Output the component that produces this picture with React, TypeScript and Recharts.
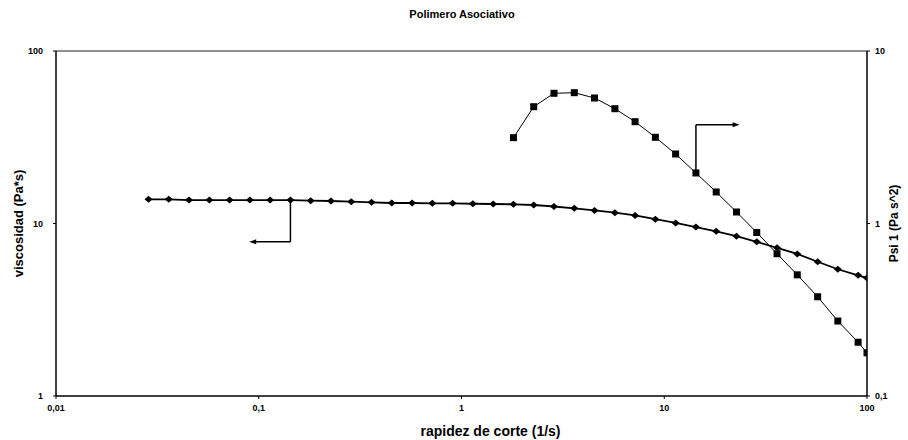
import React from 'react';
import {
  ComposedChart,
  Line,
  XAxis,
  YAxis,
  ReferenceLine,
  ReferenceDot,
} from 'recharts';

// shear rate (1/s)
const shearRate = [
  0.0286, 0.036, 0.0453, 0.0571, 0.0718, 0.0904, 0.1138, 0.1433, 0.1804, 0.2271,
  0.2859, 0.36, 0.453, 0.571, 0.718, 0.904, 1.138, 1.433, 1.804, 2.271,
  2.859, 3.6, 4.53, 5.71, 7.18, 9.04, 11.38, 14.33, 18.04, 22.71,
  28.59, 36.0, 45.3, 57.1, 71.8, 90.4, 100,
];

// viscosidad (Pa*s), left axis
const viscosity = [
  13.81, 13.81, 13.68, 13.68, 13.68, 13.68, 13.68, 13.68, 13.56, 13.5,
  13.38, 13.27, 13.15, 13.15, 13.09, 13.09, 13.02, 12.97, 12.92, 12.8,
  12.55, 12.25, 11.9, 11.55, 11.13, 10.59, 10.07, 9.54, 9.01, 8.44,
  7.83, 7.23, 6.66, 6.0, 5.43, 5.01, 4.83,
];

// Psi 1 (Pa s^2), right axis - measured from the 19th shear rate on
const PSI_START = 18;
const psi1 = [
  3.145, 4.754, 5.686, 5.732, 5.34, 4.629, 3.892, 3.16, 2.529, 1.963,
  1.523, 1.166, 0.887, 0.668, 0.504, 0.376, 0.272, 0.205, 0.178,
];

const xTicks = [0.01, 0.1, 1, 10, 100];
const leftTicks = [1, 10, 100];
const rightTicks = [0.1, 1, 10];

// annotation arrows (data coordinates)
const leftArrow = { x: 0.1433, yFrom: 13.68, yTo: 7.83, xEnd: 0.0928 };
const rightArrow = { x: 14.33, yFrom: 1.963, yTo: 3.74, xEnd: 22.75 };

const viscosityData = shearRate.map((x, i) => ({ x, y: viscosity[i] }));
const psiData = psi1.map((y, i) => ({ x: shearRate[i + PSI_START], y }));

const FONT = '"Liberation Sans", Arial, sans-serif';
const fmt = (v: number) => String(v).replace('.', ',');

const tickStyle = { fontFamily: FONT, fontSize: 9, fontWeight: 700, fill: '#000' };

const renderDiamond = (p: any) => {
  const { cx, cy, index } = p;
  if (cx == null || cy == null) return <g key={index} />;
  return (
    <polygon
      key={index}
      points={`${cx - 4},${cy} ${cx},${cy - 3.5} ${cx + 4},${cy} ${cx},${cy + 3.5}`}
      fill="#000"
    />
  );
};

const renderSquare = (p: any) => {
  const { cx, cy, index } = p;
  if (cx == null || cy == null) return <g key={index} />;
  return <rect key={index} x={cx - 3.5} y={cy - 3.5} width={7} height={7} fill="#000" />;
};

const arrowLeft = (p: any) => (
  <polygon points={`${p.cx - 3},${p.cy} ${p.cx + 4},${p.cy - 2.5} ${p.cx + 4},${p.cy + 2.5}`} fill="#000" />
);
const arrowRight = (p: any) => (
  <polygon points={`${p.cx + 3},${p.cy} ${p.cx - 4},${p.cy - 2.5} ${p.cx - 4},${p.cy + 2.5}`} fill="#000" />
);

export default function App() {
  return (
    <div style={{ position: 'absolute', left: 0, top: 0, width: 908, height: 440, background: '#fff' }}>
      <div
        style={{
          position: 'absolute',
          top: 8,
          left: 0,
          width: 924,
          textAlign: 'center',
          fontFamily: FONT,
          fontWeight: 700,
          fontSize: 11,
        }}
      >
        Polimero Asociativo
      </div>
      <ComposedChart width={908} height={440} margin={{ top: 51, right: 11, bottom: 14, left: 16 }}>
        <XAxis
          dataKey="x"
          type="number"
          scale="log"
          domain={[0.01, 100]}
          ticks={xTicks}
          tickFormatter={fmt}
          allowDataOverflow
          height={30}
          tick={tickStyle}
          tickSize={3}
          tickMargin={6}
          axisLine={{ stroke: '#000', strokeWidth: 1.5 }}
          tickLine={{ stroke: '#000' }}
          label={{
            value: 'rapidez de corte (1/s)',
            position: 'insideBottom',
            offset: -10,
            dx: 29,
            style: { fontFamily: FONT, fontSize: 14, fontWeight: 700, fill: '#000' },
          }}
        />
        <YAxis
          yAxisId="left"
          type="number"
          scale="log"
          domain={[1, 100]}
          ticks={leftTicks}
          allowDataOverflow
          width={40}
          tick={tickStyle}
          tickSize={3}
          tickMargin={10}
          axisLine={{ stroke: '#000', strokeWidth: 1.5 }}
          tickLine={{ stroke: '#000' }}
          label={{
            value: 'viscosidad (Pa*s)',
            angle: -90,
            position: 'insideLeft',
            offset: 2,
            style: { fontFamily: FONT, fontSize: 13, fontWeight: 700, fill: '#000', textAnchor: 'middle' },
          }}
        />
        <YAxis
          yAxisId="right"
          orientation="right"
          type="number"
          scale="log"
          domain={[0.1, 10]}
          ticks={rightTicks}
          tickFormatter={fmt}
          allowDataOverflow
          width={30}
          tick={tickStyle}
          tickSize={3}
          tickMargin={5}
          axisLine={{ stroke: '#000', strokeWidth: 1.5 }}
          tickLine={{ stroke: '#000' }}
          label={{
            value: 'Psi 1 (Pa s^2)',
            angle: -90,
            position: 'insideRight',
            offset: 3,
            style: { fontFamily: FONT, fontSize: 12, fontWeight: 700, fill: '#000', textAnchor: 'middle' },
          }}
        />
        <ReferenceLine yAxisId="left" y={100} stroke="#222" strokeWidth={1.2} />

        <ReferenceLine
          yAxisId="left"
          segment={[{ x: leftArrow.x, y: leftArrow.yFrom }, { x: leftArrow.x, y: leftArrow.yTo }]}
          stroke="#000"
          strokeWidth={1.5}
        />
        <ReferenceLine
          yAxisId="left"
          segment={[{ x: leftArrow.x, y: leftArrow.yTo }, { x: leftArrow.xEnd, y: leftArrow.yTo }]}
          stroke="#000"
          strokeWidth={1.5}
        />
        <ReferenceDot yAxisId="left" x={leftArrow.xEnd} y={leftArrow.yTo} shape={arrowLeft} />

        <ReferenceLine
          yAxisId="right"
          segment={[{ x: rightArrow.x, y: rightArrow.yFrom }, { x: rightArrow.x, y: rightArrow.yTo }]}
          stroke="#000"
          strokeWidth={1.5}
        />
        <ReferenceLine
          yAxisId="right"
          segment={[{ x: rightArrow.x, y: rightArrow.yTo }, { x: rightArrow.xEnd, y: rightArrow.yTo }]}
          stroke="#000"
          strokeWidth={1.5}
        />
        <ReferenceDot yAxisId="right" x={rightArrow.xEnd} y={rightArrow.yTo} shape={arrowRight} />

        <Line
          yAxisId="left"
          data={viscosityData}
          dataKey="y"
          type="linear"
          stroke="#000"
          strokeWidth={1.8}
          dot={renderDiamond}
          activeDot={false}
          isAnimationActive={false}
        />
        <Line
          yAxisId="right"
          data={psiData}
          dataKey="y"
          type="linear"
          stroke="#000"
          strokeWidth={1}
          dot={renderSquare}
          activeDot={false}
          isAnimationActive={false}
        />
      </ComposedChart>
    </div>
  );
}
